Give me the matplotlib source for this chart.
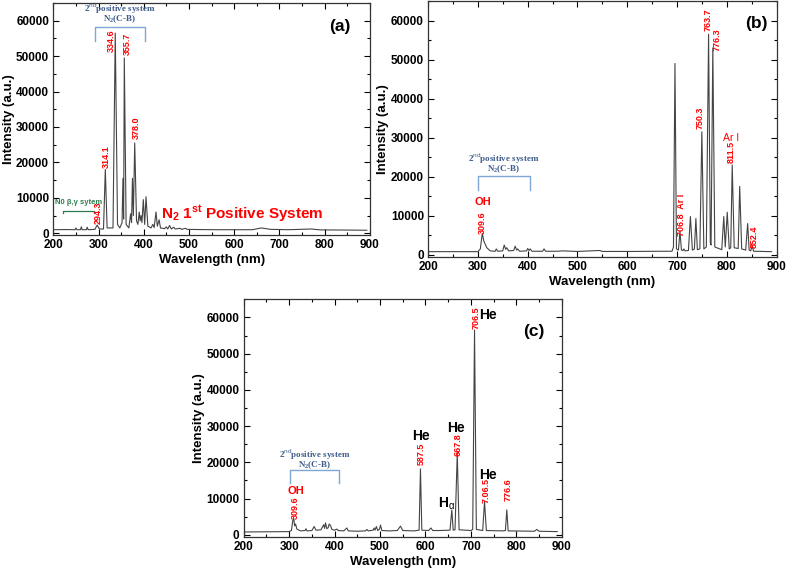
import matplotlib
matplotlib.use('Agg')
import matplotlib.pyplot as plt
from matplotlib.ticker import MultipleLocator

plt.rcParams['font.family'] = ['Liberation Sans', 'DejaVu Sans']
plt.rcParams['mathtext.fontset'] = 'custom'
plt.rcParams['mathtext.rm'] = 'Liberation Serif:bold'
plt.rcParams['mathtext.bf'] = 'Liberation Sans:bold'
plt.rcParams['mathtext.it'] = 'Liberation Sans'

# spectrum (a): wavelength (nm) / intensity (a.u.)
wl_a = [203, 230, 248, 250, 252, 260, 262, 264, 273, 275, 277, 292, 297, 302, 311, 315, 319,
        332, 337, 342, 347, 352, 354, 355.5, 357, 361, 367, 371, 373, 375, 377, 380, 384,
        387, 390, 392, 394, 396, 399, 402, 405, 409, 416, 420, 423, 427, 430, 434, 437,
        446, 450, 453, 457, 461, 466, 470, 480, 484, 492, 496, 520, 560, 600, 640, 660,
        680, 720, 770, 790, 850, 893]
int_a = [1000, 1050, 1000, 1500, 1000, 1000, 1800, 1000, 1000, 1700, 1000, 1100, 2300, 1200, 1200, 18000, 1500,
         1500, 56500, 2500, 1500, 3000, 15500, 4000, 49500, 2500, 1500, 5500, 3000, 15500, 5000, 25500, 3500,
         2500, 6000, 3500, 5000, 3000, 9500, 2500, 10300, 2000, 1500, 2500, 1600, 6000, 2000, 3800, 1500,
         1300, 1800, 1200, 2200, 1200, 1700, 1200, 1400, 1100, 1400, 1100, 1050, 1000, 1000, 1000, 1500,
         1100, 1000, 1200, 950, 900, 850]

# spectrum (b)
wl_b = [203, 300, 305, 309, 312, 318, 325, 335, 337, 340, 350, 353, 356, 358, 362, 372, 375, 378,
        380, 384, 398, 400, 403, 405, 409, 430, 433, 436, 460, 470, 500, 545, 550, 610, 670,
        690, 693, 696, 699, 703, 706, 709, 712, 714, 716, 723, 727, 731, 735, 738, 741, 746,
        750, 754, 759, 763.5, 767, 768.5, 772, 776, 790, 794, 797, 801, 805, 808, 811, 815,
        823, 826, 830, 838, 842, 845, 848, 851, 854, 890]
int_b = [800, 800, 1500, 5500, 3500, 1800, 1000, 900, 1500, 900, 1000, 2500, 1400, 1800, 1000, 1100, 2200, 1200,
         1500, 900, 1000, 1600, 1100, 1500, 900, 900, 1500, 900, 900, 1000, 850, 1100, 850, 850, 900,
         900, 2000, 49000, 1500, 1200, 6000, 1200, 1100, 1500, 1000, 1100, 9800, 1200, 1500, 9300, 1300, 1500,
         31500, 1500, 2000, 56500, 3000, 2500, 53000, 2000, 1300, 9800, 2000, 10900, 1500, 1800, 23000, 1800,
         1600, 17500, 1500, 1200, 8000, 1200, 1000, 2200, 900, 800]

# spectrum (c)
wl_c = [203, 300, 305, 308, 310, 312, 314, 317, 325, 335, 337, 339, 350, 355, 359, 370, 376, 378,
        380, 383, 386, 388, 391, 394, 400, 405, 408, 420, 427, 430, 450, 468, 471, 474, 485,
        487, 489, 492, 495, 499, 501, 504, 520, 538, 545, 550, 575, 586, 589, 592, 607, 612,
        616, 630, 654, 658, 661, 665, 670, 674, 700, 704, 708, 712, 726, 730, 734, 770, 776,
        779, 782, 840, 845, 850, 890]
int_c = [800, 900, 1200, 4000, 4600, 2500, 3000, 1600, 1100, 1200, 1700, 1100, 1200, 2300, 1300, 1400, 2800, 1800,
         3300, 1700, 2000, 3000, 2600, 1500, 1300, 1600, 1200, 1100, 1900, 1100, 1000, 1100, 1500, 1100, 1300,
         1900, 1300, 2300, 1200, 1600, 2700, 1200, 1100, 1200, 2400, 1200, 1100, 1300, 18200, 1300, 1200, 1900,
         1200, 1200, 1300, 6900, 1300, 1400, 22500, 1400, 1200, 1500, 56500, 1500, 1200, 9200, 1200, 1100, 1200,
         6900, 1100, 1000, 1500, 1000, 900]

yticks = [0, 10000, 20000, 30000, 40000, 50000, 60000]
xticks = [200, 300, 400, 500, 600, 700, 800, 900]

red_font = ['Liberation Sans Narrow', 'Liberation Sans']
blue = '#3d5c8c'
bracket_blue = '#7fa7d6'


def setup_axes(ax, wl, inten):
    ax.plot(wl, inten, color='#444444', lw=0.8)
    ax.set_xlim(200, 900)
    ax.set_ylim(-500, 65000)
    ax.set_xticks(xticks)
    ax.set_yticks(yticks)
    ax.xaxis.set_minor_locator(MultipleLocator(50))
    ax.yaxis.set_minor_locator(MultipleLocator(5000))
    ax.tick_params(which='both', direction='in', top=True, right=True, width=0.8)
    ax.tick_params(which='major', length=4, labelsize=8.5, pad=3)
    ax.tick_params(which='minor', length=2)
    for lab in ax.get_xticklabels() + ax.get_yticklabels():
        lab.set_fontweight('bold')
    for sp in ax.spines.values():
        sp.set_linewidth(0.9)
        sp.set_color('#333333')
    ax.set_xlabel('Wavelength (nm)', fontsize=9.5, fontweight='bold', labelpad=2)
    ax.set_ylabel('Intensity (a.u.)', fontsize=9.5, fontweight='bold', labelpad=1)


def red_label(ax, x, y, s, size=6.5):
    ax.text(x, y, s, rotation=90, color='red', fontsize=size, family=red_font,
            fontweight='bold', ha='center', va='center')


def n2_bracket(ax, x0, x1, ytop, yleg, ytxt1, ytxt2):
    ax.plot([x0, x0, x1, x1], [yleg, ytop, ytop, yleg], color=bracket_blue, lw=1)
    xm = (x0 + x1) / 2
    ax.text(xm, ytxt1, r'2$^{nd}$positive system', color=blue, fontsize=6.5,
            family='Liberation Serif', fontweight='bold', ha='center', va='center')
    ax.text(xm, ytxt2, r'N$_2$(C-B)', color=blue, fontsize=6.5,
            family='Liberation Serif', fontweight='bold', ha='center', va='center')


fig = plt.figure(figsize=(7.87, 5.71), dpi=100)

# (a)
ax0 = fig.add_axes([0.0677, 0.5884, 0.4024, 0.4063])
setup_axes(ax0, wl_a, int_a)
n2_bracket(ax0, 292, 402, 58200, 54300, 63400, 60400)
red_label(ax0, 329, 54500, '334.6')
red_label(ax0, 363, 53400, '355.7')
red_label(ax0, 384, 29700, '378.0')
red_label(ax0, 317, 21500, '314.1')
red_label(ax0, 299, 5700, '294.3')
ax0.plot([222, 222, 289, 289], [5650, 6300, 6300, 5650], color='#2e7d4f', lw=0.9)
ax0.text(255, 8600, 'N0 β,γ sytem', color='#2e7d4f', fontsize=5.5, fontweight='bold',
         ha='center', va='center')
ax0.text(617, 5400, r'N$_\mathbf{2}$ 1$^\mathbf{st}$ Positive System', color='red',
         fontsize=11, fontweight='bold', ha='center', va='center')
ax0.text(0.905, 0.897, '(a)', transform=ax0.transAxes, fontsize=12.5,
         fontweight='bold', ha='center', va='center')

# (b)
ax1 = fig.add_axes([0.5439, 0.5504, 0.4428, 0.4478])
setup_axes(ax1, wl_b, int_b)
n2_bracket(ax1, 300, 405, 20300, 16600, 24500, 21900)
ax1.text(310, 13600, 'OH', color='red', fontsize=8, fontweight='bold', ha='center', va='center')
red_label(ax1, 310, 8200, '309.6')
red_label(ax1, 763, 60200, '763.7')
red_label(ax1, 781, 55000, '776.3')
red_label(ax1, 746, 35000, '750.3')
red_label(ax1, 809, 26400, '811.5')
ax1.text(809, 29900, 'Ar I', color='red', fontsize=7.5, ha='center', va='center')
red_label(ax1, 710, 10300, '706.8  Ar I')
red_label(ax1, 856, 4700, '852.4')
ax1.text(0.943, 0.913, '(b)', transform=ax1.transAxes, fontsize=12.5,
         fontweight='bold', ha='center', va='center')

# (c)
ax2 = fig.add_axes([0.3097, 0.0601, 0.4041, 0.4158])
setup_axes(ax2, wl_c, int_c)
n2_bracket(ax2, 302, 410, 17900, 14300, 22100, 19200)
ax2.text(314, 12200, 'OH', color='red', fontsize=8, fontweight='bold', ha='center', va='center')
red_label(ax2, 314, 7400, '309.6')
red_label(ax2, 712, 59800, '706.5')
ax2.text(737, 60700, 'He', fontsize=10, fontweight='bold', ha='center', va='center')
ax2.text(591, 27300, 'He', fontsize=10, fontweight='bold', ha='center', va='center')
red_label(ax2, 590, 22300, '587.5')
ax2.text(667, 29600, 'He', fontsize=10, fontweight='bold', ha='center', va='center')
red_label(ax2, 671, 24900, '667.8')
ax2.text(646, 8700, r'H$_\alpha$', fontsize=10, fontweight='bold', ha='center', va='center')
ax2.text(737, 16600, 'He', fontsize=10, fontweight='bold', ha='center', va='center')
red_label(ax2, 733, 12200, '7.06.5')
red_label(ax2, 782, 12400, '776.6')
ax2.text(0.911, 0.864, '(c)', transform=ax2.transAxes, fontsize=12.5,
         fontweight='bold', ha='center', va='center')

fig.savefig('out.png', dpi=100)
